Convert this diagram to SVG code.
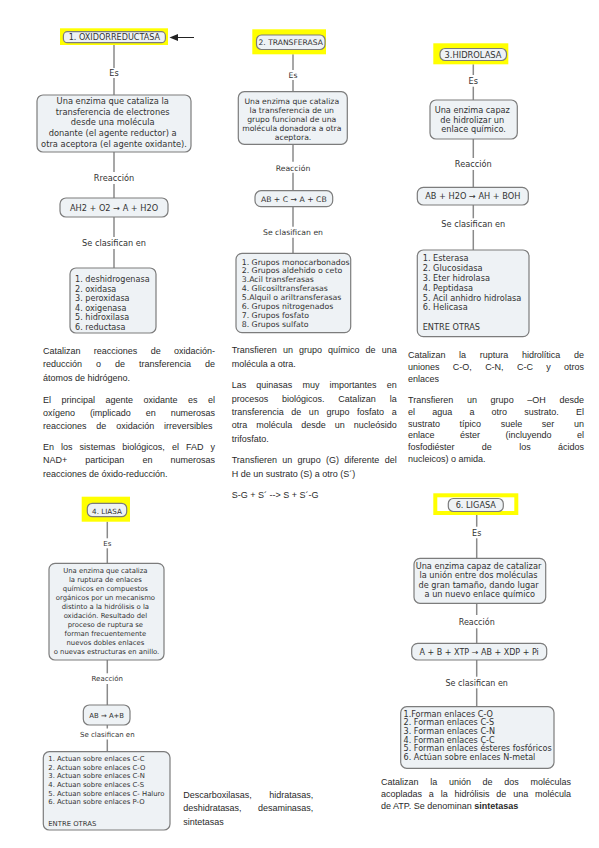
<svg xmlns="http://www.w3.org/2000/svg" width="599" height="848" viewBox="0 0 599 848">
<style>
.n{fill:#eef2f5;stroke:#7c7c7c;stroke-width:1.2}
.y{fill:#ffff00}
.yf{fill:none;stroke:#ffff00;stroke-width:4}
.c line{stroke:#8a8a8a;stroke-width:1.5}
.t{font-family:'DejaVu Sans',Verdana,sans-serif;fill:#333}
.m{text-anchor:middle}
.p{font-family:'Liberation Sans',Arial,sans-serif;font-size:9px;fill:#2a2a2a}
</style>
<rect width="599" height="848" fill="#fff"/>

<g id="connectors" class="c">
  <line x1="114" y1="45" x2="114" y2="68"/>
  <line x1="114" y1="78" x2="114" y2="95"/>
  <line x1="114" y1="152" x2="114" y2="172"/>
  <line x1="114" y1="184" x2="114" y2="198"/>
  <line x1="114" y1="217" x2="114" y2="237"/>
  <line x1="114" y1="249" x2="114" y2="268"/>
  <line x1="194" y1="37.5" x2="177" y2="37.5" style="stroke:#222;stroke-width:1"/>
  <polygon points="169.5,37.5 178,34 178,41" fill="#222"/>

  <line x1="293" y1="54.3" x2="293" y2="70"/>
  <line x1="293" y1="80" x2="293" y2="91.7"/>
  <line x1="293" y1="144.3" x2="293" y2="161.7"/>
  <line x1="293" y1="172.7" x2="293" y2="190.7"/>
  <line x1="293" y1="206.7" x2="293" y2="226.7"/>
  <line x1="293" y1="237.7" x2="293" y2="253.3"/>

  <line x1="473.3" y1="64.3" x2="473.3" y2="75"/>
  <line x1="473.3" y1="86.7" x2="473.3" y2="100"/>
  <line x1="473.3" y1="139" x2="473.3" y2="158"/>
  <line x1="473.3" y1="170" x2="473.3" y2="187.3"/>
  <line x1="473.3" y1="205" x2="473.3" y2="218.3"/>
  <line x1="473.3" y1="230" x2="473.3" y2="250"/>

  <line x1="107.3" y1="521.7" x2="107.3" y2="538.3"/>
  <line x1="107.3" y1="548.3" x2="107.3" y2="563.3"/>
  <line x1="107.3" y1="660" x2="107.3" y2="673.3"/>
  <line x1="107.3" y1="684" x2="107.3" y2="705"/>
  <line x1="107.3" y1="725" x2="107.3" y2="728.5"/>
  <line x1="107.3" y1="739.5" x2="107.3" y2="751.7"/>

  <line x1="476.7" y1="515" x2="476.7" y2="526.7"/>
  <line x1="476.7" y1="538.3" x2="476.7" y2="558.3"/>
  <line x1="476.7" y1="603.3" x2="476.7" y2="615"/>
  <line x1="476.7" y1="628.3" x2="476.7" y2="643.3"/>
  <line x1="476.7" y1="660" x2="476.7" y2="676.7"/>
  <line x1="476.7" y1="688.3" x2="476.7" y2="706.7"/>

  <g class="t m">
    <text x="114" y="76" font-size="8.2">Es</text>
    <text x="114" y="181.3" font-size="8.2">Rreacción</text>
    <text x="114" y="246.3" font-size="8.2">Se clasifican en</text>
    <text x="293" y="77.8" font-size="7.7">Es</text>
    <text x="293" y="170.5" font-size="7.7">Reacción</text>
    <text x="293" y="235" font-size="7.7">Se clasifican en</text>
    <text x="473.3" y="83.7" font-size="8.2">Es</text>
    <text x="473.3" y="167" font-size="8.2">Reacción</text>
    <text x="473.3" y="227" font-size="8.2">Se clasifican en</text>
    <text x="107.3" y="546" font-size="7">Es</text>
    <text x="107.3" y="680.7" font-size="7">Reacción</text>
    <text x="107.3" y="736.6" font-size="7">Se clasifican en</text>
    <text x="476.7" y="535.6" font-size="8">Es</text>
    <text x="476.7" y="624.6" font-size="8">Reacción</text>
    <text x="476.7" y="685.6" font-size="8">Se clasifican en</text>
  </g>
</g>

<!-- Column 1 -->
<g id="oxidorreductasa">
  <rect class="y" x="60" y="28.3" width="108" height="16.7"/>
  <rect class="n" x="63.4" y="31.7" width="102" height="11" rx="4"/>
  <text class="t m" x="114.4" y="40.3" font-size="8.1">1. OXIDORREDUCTASA</text>
</g>
<g id="oxidorreductasa-def">
  <rect class="n" x="37" y="95" width="154" height="57" rx="6"/>
  <text class="t m" font-size="8.3">
    <tspan x="114" y="104">Una enzima que cataliza la</tspan>
    <tspan x="114" y="114.7">transferencia de electrones</tspan>
    <tspan x="114" y="125.4">desde una molécula</tspan>
    <tspan x="114" y="136.1">donante (el agente reductor) a</tspan>
    <tspan x="114" y="146.8">otra aceptora (el agente oxidante).</tspan>
  </text>
</g>
<g id="oxidorreductasa-reaccion">
  <rect class="n" x="60" y="198" width="108" height="19" rx="6"/>
  <text class="t m" x="114" y="211" font-size="8.2">AH2 + O2 → A + H2O</text>
</g>
<g id="oxidorreductasa-lista">
  <rect class="n" x="70" y="268" width="86" height="65" rx="6"/>
  <text class="t" font-size="8.1">
    <tspan x="75" y="282">1. deshidrogenasa</tspan>
    <tspan x="75" y="291.5">2. oxidasa</tspan>
    <tspan x="75" y="301">3. peroxidasa</tspan>
    <tspan x="75" y="310.5">4. oxigenasa</tspan>
    <tspan x="75" y="320">5. hidroxilasa</tspan>
    <tspan x="75" y="329.5">6. reductasa</tspan>
  </text>
</g>

<!-- Column 2 -->
<g id="transferasa">
  <rect class="y" x="252.3" y="29.3" width="73.7" height="25"/>
  <rect class="n" x="256.5" y="35" width="68.5" height="14.5" rx="5"/>
  <text class="t m" x="290.7" y="44.6" font-size="7.6">2. TRANSFERASA</text>
</g>
<g id="transferasa-def">
  <rect class="n" x="238.3" y="91.7" width="109" height="52.6" rx="6"/>
  <text class="t m" font-size="7.7">
    <tspan x="293" y="103.8">Una enzima que cataliza</tspan>
    <tspan x="293" y="112.8">la transferencia de un</tspan>
    <tspan x="293" y="121.8">grupo funcional de una</tspan>
    <tspan x="293" y="130.6">molécula donadora a otra</tspan>
    <tspan x="293" y="139.5">aceptora.</tspan>
  </text>
</g>
<g id="transferasa-reaccion">
  <rect class="n" x="255" y="190.7" width="77.7" height="16" rx="6"/>
  <text class="t m" x="293.8" y="201.5" font-size="7.7">AB + C → A + CB</text>
</g>
<g id="transferasa-lista">
  <rect class="n" x="236" y="253.3" width="114.7" height="79.4" rx="6"/>
  <text class="t" font-size="7.8">
    <tspan x="241.7" y="264.5">1. Grupos monocarbonados</tspan>
    <tspan x="241.7" y="273.4">2. Grupos aldehido o ceto</tspan>
    <tspan x="241.7" y="282.3">3.Acil transferasas</tspan>
    <tspan x="241.7" y="291.2">4. Glicosiltransferasas</tspan>
    <tspan x="241.7" y="300.1">5.Alquil o ariltransferasas</tspan>
    <tspan x="241.7" y="309">6. Grupos nitrogenados</tspan>
    <tspan x="241.7" y="317.9">7. Grupos fosfato</tspan>
    <tspan x="241.7" y="326.8">8. Grupos sulfato</tspan>
  </text>
</g>

<!-- Column 3 -->
<g id="hidrolasa">
  <rect class="y" x="433.3" y="43.3" width="75" height="21"/>
  <rect class="n" x="440" y="48.5" width="66.5" height="12" rx="5"/>
  <text class="t m" x="473" y="58" font-size="8.3">3.HIDROLASA</text>
</g>
<g id="hidrolasa-def">
  <rect class="n" x="430" y="100" width="87.3" height="39" rx="6"/>
  <text class="t m" font-size="8.2">
    <tspan x="473.6" y="113">Una enzima capaz</tspan>
    <tspan x="473.6" y="122.7">de hidrolizar un</tspan>
    <tspan x="473.6" y="132.4">enlace químico.</tspan>
  </text>
</g>
<g id="hidrolasa-reaccion">
  <rect class="n" x="417.3" y="187.3" width="111" height="17.7" rx="6"/>
  <text class="t m" x="472.8" y="199" font-size="8.2">AB + H2O → AH + BOH</text>
</g>
<g id="hidrolasa-lista">
  <rect class="n" x="417.3" y="250" width="111.7" height="86.7" rx="6"/>
  <text class="t" font-size="8.2">
    <tspan x="422.7" y="261.3">1. Esterasa</tspan>
    <tspan x="422.7" y="271.1">2. Glucosidasa</tspan>
    <tspan x="422.7" y="280.9">3. Eter hidrolasa</tspan>
    <tspan x="422.7" y="290.7">4. Peptidasa</tspan>
    <tspan x="422.7" y="300.5">5. Acil anhidro hidrolasa</tspan>
    <tspan x="422.7" y="310.3">6. Helicasa</tspan>
    <tspan x="422.7" y="330">ENTRE OTRAS</tspan>
  </text>
</g>

<!-- Liasa -->
<g id="liasa">
  <rect class="y" x="81.7" y="496.7" width="48.3" height="25"/>
  <rect class="n" x="87.3" y="503.3" width="39.4" height="13.4" rx="5"/>
  <text class="t m" x="107" y="514.2" font-size="7.2">4. LIASA</text>
</g>
<g id="liasa-def">
  <rect class="n" x="49" y="563.3" width="115" height="96.7" rx="6"/>
  <text class="t m" font-size="6.85">
    <tspan x="106.5" y="573.4">Una enzima que cataliza</tspan>
    <tspan x="106.5" y="582.4">la ruptura de enlaces</tspan>
    <tspan x="106.5" y="591.4">químicos en compuestos</tspan>
    <tspan x="106.5" y="600.4">orgánicos por un mecanismo</tspan>
    <tspan x="106.5" y="609.4">distinto a la hidrólisis o la</tspan>
    <tspan x="106.5" y="618.4">oxidación. Resultado del</tspan>
    <tspan x="106.5" y="627.4">proceso de ruptura se</tspan>
    <tspan x="106.5" y="636.4">forman frecuentemente</tspan>
    <tspan x="106.5" y="645.4">nuevos dobles enlaces</tspan>
    <tspan x="106.5" y="654.4">o nuevas estructuras en anillo.</tspan>
  </text>
</g>
<g id="liasa-reaccion">
  <rect class="n" x="83.3" y="705" width="46.7" height="20" rx="6"/>
  <text class="t m" x="106.7" y="717.5" font-size="6.9">AB → A+B</text>
</g>
<g id="liasa-lista">
  <rect class="n" x="43.3" y="751.7" width="126.7" height="78.3" rx="6"/>
  <text class="t" font-size="6.85">
    <tspan x="48.3" y="760.8">1. Actuan sobre enlaces C-C</tspan>
    <tspan x="48.3" y="769.5">2. Actuan sobre enlaces C-O</tspan>
    <tspan x="48.3" y="778.2">3. Actuan sobre enlaces C-N</tspan>
    <tspan x="48.3" y="786.9">4. Actuan sobre enlaces C-S</tspan>
    <tspan x="48.3" y="795.6">5. Actuan sobre enlaces C- Haluro</tspan>
    <tspan x="48.3" y="804.3">6. Actuan sobre enlaces P-O</tspan>
    <tspan x="48.3" y="825.5">ENTRE OTRAS</tspan>
  </text>
</g>

<!-- Ligasa -->
<g id="ligasa">
  <rect class="yf" x="435.3" y="495.3" width="81" height="17.7"/>
  <rect class="n" x="448.3" y="498.5" width="55" height="13" rx="5"/>
  <text class="t m" x="475.8" y="508" font-size="8.2">6. LIGASA</text>
</g>
<g id="ligasa-def">
  <rect class="n" x="414" y="558.3" width="131.7" height="45" rx="6"/>
  <text class="t m" font-size="8.2">
    <tspan x="479.8" y="569">Una enzima capaz de catalizar</tspan>
    <tspan x="479.8" y="578.3">la unión entre dos moléculas</tspan>
    <tspan x="479.8" y="587.6">de gran tamaño, dando lugar</tspan>
    <tspan x="479.8" y="596.9">a un nuevo enlace químico</tspan>
  </text>
</g>
<g id="ligasa-reaccion">
  <rect class="n" x="411.7" y="643.3" width="135" height="16.7" rx="6"/>
  <text class="t m" x="479.2" y="654.6" font-size="8">A + B + XTP → AB + XDP + Pi</text>
</g>
<g id="ligasa-lista">
  <rect class="n" x="400.7" y="706.7" width="153.3" height="61.6" rx="6"/>
  <text class="t" font-size="8.1">
    <tspan x="403.5" y="716.8">1.Forman enlaces C-O</tspan>
    <tspan x="403.5" y="725.4">2. Forman enlaces C-S</tspan>
    <tspan x="403.5" y="734">3. Forman enlaces C-N</tspan>
    <tspan x="403.5" y="742.6">4. Forman enlaces C-C</tspan>
    <tspan x="403.5" y="751.2">5. Forman enlaces ésteres fosfóricos</tspan>
    <tspan x="403.5" y="759.8">6. Actúan sobre enlaces N-metal</tspan>
  </text>
</g>

<!-- Paragraph texts -->
<g id="texto-oxidorreductasa" class="p">
  <text x="43" y="354" textLength="172" lengthAdjust="spacing" word-spacing="10.8">Catalizan reacciones de oxidación-</text>
  <text x="43" y="367.3" textLength="172" lengthAdjust="spacing" word-spacing="11.5">reducción o de transferencia de</text>
  <text x="43" y="380.6">átomos de hidrógeno.</text>
  <text x="43" y="402.6" textLength="172" lengthAdjust="spacing" word-spacing="8">El principal agente oxidante es el</text>
  <text x="43" y="415.9" textLength="172" lengthAdjust="spacing" word-spacing="12.5">oxígeno (implicado en numerosas</text>
  <text x="43" y="429.2" textLength="169.5" lengthAdjust="spacing" word-spacing="7.3">reacciones de oxidación irreversibles</text>
  <text x="43" y="450" textLength="172" lengthAdjust="spacing" word-spacing="4.5">En los sistemas biológicos, el FAD y</text>
  <text x="43" y="463.3" textLength="172" lengthAdjust="spacing" word-spacing="15.6">NAD+ participan en numerosas</text>
  <text x="43" y="476.6">reacciones de óxido-reducción.</text>
</g>

<g id="texto-transferasa" class="p">
  <text x="231.7" y="353.3" textLength="165" lengthAdjust="spacing" word-spacing="3.6">Transfieren un grupo químico de una</text>
  <text x="231.7" y="367.3">molécula a otra.</text>
  <text x="231.7" y="388.3" textLength="165" lengthAdjust="spacing" word-spacing="7.6">Las quinasas muy importantes en</text>
  <text x="231.7" y="401.6" textLength="165" lengthAdjust="spacing" word-spacing="11.3">procesos biológicos. Catalizan la</text>
  <text x="231.7" y="415" textLength="165" lengthAdjust="spacing" word-spacing="5.1">transferencia de un grupo fosfato a</text>
  <text x="231.7" y="428.3" textLength="165" lengthAdjust="spacing" word-spacing="6.5">otra molécula desde un nucleósido</text>
  <text x="231.7" y="441.6">trifosfato.</text>
  <text x="231.7" y="463.3" textLength="165" lengthAdjust="spacing" word-spacing="2.8">Transfieren un grupo (G) diferente del</text>
  <text x="231.7" y="477.3">H de un sustrato (S) a otro (S´)</text>
  <text x="231.7" y="497.6">S-G + S´ --&gt; S + S´-G</text>
</g>

<g id="texto-hidrolasa" class="p">
  <text x="408" y="358.3" textLength="176" lengthAdjust="spacing" word-spacing="11.2">Catalizan la ruptura hidrolítica de</text>
  <text x="408" y="370" textLength="176" lengthAdjust="spacing" word-spacing="10.8">uniones C-O, C-N, C-C y otros</text>
  <text x="408" y="381.6">enlaces</text>
  <text x="408" y="403.3" textLength="176" lengthAdjust="spacing" word-spacing="11.1">Transfieren un grupo –OH desde</text>
  <text x="408" y="415" textLength="176" lengthAdjust="spacing" word-spacing="14.7">el agua a otro sustrato. El</text>
  <text x="408" y="426.6" textLength="176" lengthAdjust="spacing" word-spacing="17.2">sustrato típico suele ser un</text>
  <text x="408" y="438.3" textLength="176" lengthAdjust="spacing" word-spacing="23">enlace éster (incluyendo el</text>
  <text x="408" y="449.9" textLength="176" lengthAdjust="spacing" word-spacing="24.8">fosfodiéster de los ácidos</text>
  <text x="408" y="461.5">nucleicos) o amida.</text>
</g>

<g id="texto-liasa" class="p">
  <text x="183.3" y="797.8" textLength="130" lengthAdjust="spacing" word-spacing="15">Descarboxilasas, hidratasas,</text>
  <text x="183.3" y="811.3" textLength="130" lengthAdjust="spacing" word-spacing="14">deshidratasas, desaminasas,</text>
  <text x="183.3" y="824.8">sintetasas</text>
</g>

<g id="texto-ligasa" class="p">
  <text x="381" y="785.3" textLength="190" lengthAdjust="spacing" word-spacing="9.2">Catalizan la unión de dos moléculas</text>
  <text x="381" y="797.3" textLength="190" lengthAdjust="spacing" word-spacing="4.3">acopladas a la hidrólisis de una molécula</text>
  <text x="381" y="809.3">de ATP. Se denominan <tspan font-weight="bold">sintetasas</tspan></text>
</g>
</svg>
